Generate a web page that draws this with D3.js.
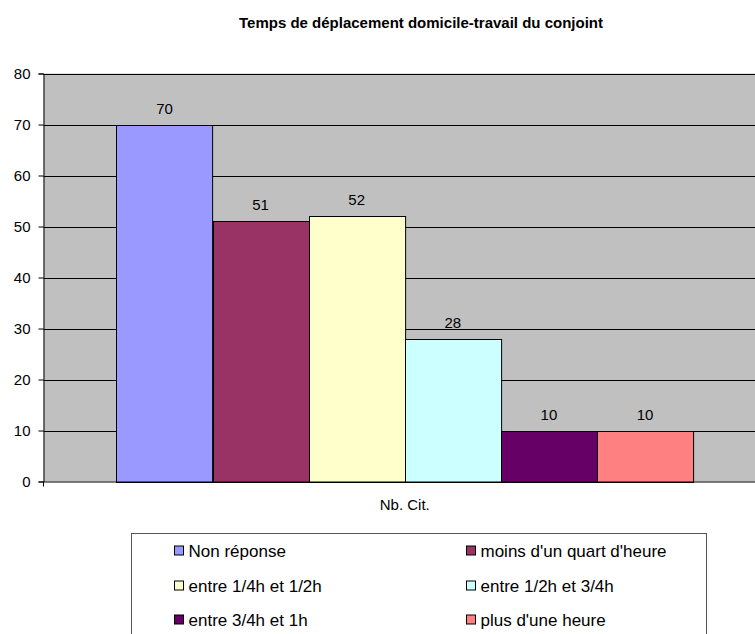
<!DOCTYPE html>
<html>
<head>
<meta charset="utf-8">
<script src="https://cdn.jsdelivr.net/npm/d3@7"></script>
<style>
  html, body { margin: 0; padding: 0; background: #ffffff; }
  svg { display: block; }
  text { font-family: "Liberation Sans", Arial, sans-serif; }
</style>
</head>
<body>
<svg id="chart" width="755" height="634"></svg>
<script>
const title = "Temps de déplacement domicile-travail du conjoint";
const categories = ["Nb. Cit."];
const series = ["Non réponse", "moins d'un quart d'heure", "entre 1/4h et 1/2h", "entre 1/2h et 3/4h", "entre 3/4h et 1h", "plus d'une heure"];
const values = [70, 51, 52, 28, 10, 10];
const colors = ["#9999FF", "#993366", "#FFFFCC", "#CCFFFF", "#660066", "#FF8080"];
const yTicks = [0, 10, 20, 30, 40, 50, 60, 70, 80];

const svg = d3.select("#chart");
const plot = { left: 43.5, right: 766, top: 73.5, bottom: 481.5 };

// Title
svg.append("text")
  .attr("x", 421).attr("y", 28)
  .attr("text-anchor", "middle")
  .attr("font-size", 15).attr("font-weight", "bold")
  .attr("fill", "#000")
  .text(title);

const y = d3.scaleLinear().domain([0, 80]).range([plot.bottom, plot.top]);
const x0 = d3.scaleBand().domain(categories).range([plot.left, plot.right])
  .paddingInner(0).paddingOuter(0.1265);
const x1 = d3.scaleBand().domain(series).range([0, x0.bandwidth()]).padding(0);

// Plot background
svg.append("rect")
  .attr("x", plot.left).attr("y", plot.top)
  .attr("width", plot.right - plot.left).attr("height", plot.bottom - plot.top)
  .attr("fill", "#C0C0C0");

// Gridlines
svg.append("g").selectAll("line").data(yTicks.filter(d => d > 0)).join("line")
  .attr("x1", plot.left).attr("x2", plot.right)
  .attr("y1", d => Math.round(y(d)) + 0.5).attr("y2", d => Math.round(y(d)) + 0.5)
  .attr("stroke", "#000").attr("stroke-width", 1);

// Bars
const g = svg.append("g");
categories.forEach(cat => {
  const data = series.map((s, i) => ({ s, v: values[i], c: colors[i] }));
  g.selectAll("rect.bar").data(data).join("rect")
    .attr("class", "bar")
    .attr("x", d => Math.round(x0(cat) + x1(d.s)) + 0.5)
    .attr("y", d => Math.round(y(d.v)) + 0.5)
    .attr("width", x1.bandwidth())
    .attr("height", d => Math.round(y(0)) - Math.round(y(d.v)))
    .attr("fill", d => d.c)
    .attr("stroke", "#000").attr("stroke-width", 1);
  g.selectAll("text.val").data(data).join("text")
    .attr("class", "val")
    .attr("x", d => x0(cat) + x1(d.s) + x1.bandwidth() / 2)
    .attr("y", d => y(d.v) - 11)
    .attr("text-anchor", "middle")
    .attr("font-size", 15).attr("fill", "#000")
    .text(d => d.v);
});

// Y axis
const yAxis = d3.axisLeft(y).tickValues(yTicks).tickSize(5).tickPadding(8);
const ya = svg.append("g").attr("transform", `translate(${plot.left},0)`).call(yAxis);
ya.select(".domain").attr("stroke", "#000");
ya.selectAll(".tick line").attr("stroke", "#000");
ya.selectAll(".tick text").attr("font-size", 15).attr("fill", "#000")
  .attr("font-family", "Liberation Sans, Arial, sans-serif");

// X axis
const xAxis = d3.axisBottom(x0).tickSize(0).tickPadding(18);
const xa = svg.append("g").attr("transform", `translate(0,${plot.bottom})`).call(xAxis);
xa.select(".domain").attr("stroke", "#000");
xa.selectAll(".tick text").attr("font-size", 15).attr("fill", "#000")
  .attr("font-family", "Liberation Sans, Arial, sans-serif");
svg.append("line")
  .attr("x1", plot.left).attr("x2", plot.left)
  .attr("y1", plot.bottom).attr("y2", plot.bottom + 5)
  .attr("stroke", "#000");

// Legend
const legend = svg.append("g");
legend.append("rect")
  .attr("x", 131.5).attr("y", 533.5)
  .attr("width", 575).attr("height", 120)
  .attr("fill", "#fff").attr("stroke", "#555").attr("stroke-width", 1);
const colX = [174.5, 466.5];
const rowY = [551, 586, 620];
series.forEach((s, i) => {
  const cx = colX[i % 2], cy = rowY[Math.floor(i / 2)];
  legend.append("rect")
    .attr("x", cx).attr("y", cy - 5)
    .attr("width", 9).attr("height", 9)
    .attr("fill", colors[i]).attr("stroke", "#000");
  legend.append("text")
    .attr("x", cx + 14).attr("y", cy + 6)
    .attr("font-size", 17).attr("fill", "#000")
    .text(s);
});
</script>
</body>
</html>
